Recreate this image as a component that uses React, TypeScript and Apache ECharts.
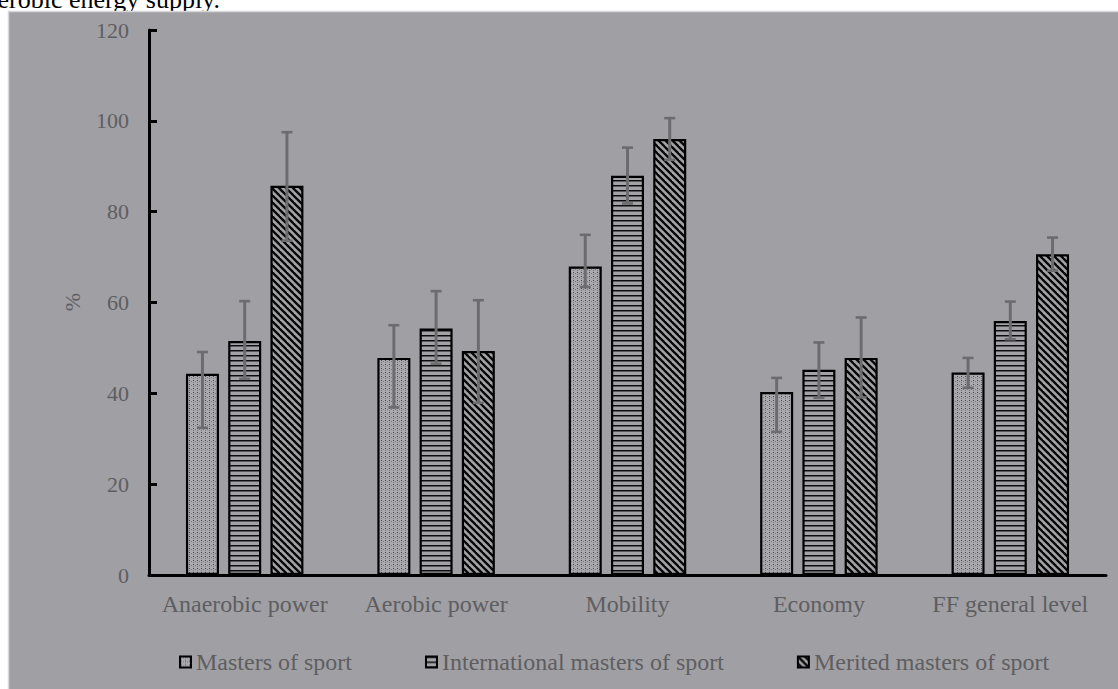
import React, { useEffect, useRef } from "react";
import * as echarts from "echarts";

// Functional fitness indicators by qualification group (% of level), mean with error range
const categories = ["Anaerobic power", "Aerobic power", "Mobility", "Economy", "FF general level"];
const groupNames = ["Masters of sport", "International masters of sport", "Merited masters of sport"];

const mastersMean = [44.3, 47.8, 67.9, 40.3, 44.6];
const mastersUpper = [49.1, 55.0, 74.9, 43.4, 47.8];
const mastersLower = [32.4, 36.9, 63.4, 31.5, 41.2];

const internationalMean = [51.5, 54.3, 87.9, 45.2, 55.9];
const internationalUpper = [60.3, 62.5, 94.1, 51.2, 60.2];
const internationalLower = [43.2, 46.5, 81.8, 39.0, 51.9];

const meritedMean = [85.7, 49.3, 96.0, 47.8, 70.6];
const meritedUpper = [97.5, 60.5, 100.6, 56.7, 74.3];
const meritedLower = [73.6, 37.9, 91.4, 39.1, 67.0];

const yTickLabels = [0, 20, 40, 60, 80, 100, 120];

const FONT = "Liberation Serif";
const PANEL = "#a09fa4";
const TEXT_GREY = "#5e5e60";
const ERR_GREY = "#6c6c6e";
const BAR_WIDTH = 33;
const BAR_GAP = 0.28;

type Tile = { image: string; repeat: string; imageWidth: number; imageHeight: number };

function makeTile(w: number, h: number, draw: (ctx: CanvasRenderingContext2D) => void): Tile {
  const c = document.createElement("canvas");
  c.width = w;
  c.height = h;
  const ctx = c.getContext("2d") as CanvasRenderingContext2D;
  draw(ctx);
  return { image: c.toDataURL(), repeat: "repeat", imageWidth: w, imageHeight: h };
}

function dottedFill(): Tile {
  return makeTile(4, 4, (ctx) => {
    ctx.fillStyle = "#aaa9ad";
    ctx.fillRect(0, 0, 4, 4);
    ctx.fillStyle = "#4a4a4c";
    ctx.fillRect(1, 0, 1, 1);
    ctx.fillStyle = "#7a797d";
    ctx.fillRect(1, 2, 1, 1);
    ctx.fillRect(3, 1, 1, 1);
  });
}

function stripedFill(): Tile {
  return makeTile(4, 5, (ctx) => {
    ctx.fillStyle = "#a3a2a6";
    ctx.fillRect(0, 0, 4, 5);
    ctx.fillStyle = "#0c0c0c";
    ctx.fillRect(0, 0, 4, 1);
    ctx.fillStyle = "#5a5a5c";
    ctx.fillRect(0, 1, 4, 1);
  });
}

function hatchedFill(): Tile {
  return makeTile(7, 7, (ctx) => {
    ctx.fillStyle = "#a3a2a6";
    ctx.fillRect(0, 0, 7, 7);
    ctx.strokeStyle = "#080808";
    ctx.lineWidth = 2.3;
    for (const off of [-7, 0, 7]) {
      ctx.beginPath();
      ctx.moveTo(off - 1, -1);
      ctx.lineTo(off + 8, 8);
      ctx.stroke();
    }
  });
}

export default function App() {
  const ref = useRef<HTMLDivElement>(null);

  useEffect(() => {
    if (!ref.current) return;
    const chart = echarts.init(ref.current, undefined, { renderer: "svg" });

    const fills = [dottedFill(), stripedFill(), hatchedFill()];
    const means = [mastersMean, internationalMean, meritedMean];
    const uppers = [mastersUpper, internationalUpper, meritedUpper];
    const lowers = [mastersLower, internationalLower, meritedLower];
    const step = BAR_WIDTH * (1 + BAR_GAP);

    const barSeries = groupNames.map((name, i) => ({
      type: "bar",
      name,
      data: means[i],
      barWidth: BAR_WIDTH,
      barGap: `${BAR_GAP * 100}%`,
      itemStyle: { color: fills[i], borderColor: "#000", borderWidth: 2.2 },
      z: 2,
    }));

    const errorSeries = groupNames.map((name, i) => ({
      type: "custom",
      name: `${name} range`,
      data: categories.map((_, c) => [c, uppers[i][c], lowers[i][c]]),
      encode: { x: 0, y: [1, 2] },
      z: 5,
      silent: true,
      renderItem: (_params: any, api: any) => {
        const cat = api.value(0);
        const top = api.coord([cat, api.value(1)]);
        const bottom = api.coord([cat, api.value(2)]);
        const x = top[0] + (i - 1) * step;
        const half = 5.5;
        const stem = { stroke: ERR_GREY, lineWidth: 3 };
        const cap = { stroke: ERR_GREY, lineWidth: 2.6 };
        return {
          type: "group",
          children: [
            { type: "line", shape: { x1: x, y1: top[1], x2: x, y2: bottom[1] }, style: stem },
            { type: "line", shape: { x1: x - half, y1: top[1], x2: x + half, y2: top[1] }, style: cap },
            { type: "line", shape: { x1: x - half, y1: bottom[1], x2: x + half, y2: bottom[1] }, style: cap },
          ],
        };
      },
    }));

    chart.setOption({
      animation: false,
      backgroundColor: "#ffffff",
      graphic: [
        {
          // closing words of the preceding paragraph, cut by the figure panel
          type: "text",
          z: -20,
          x: -14,
          y: 12,
          style: {
            text: "aerobic energy supply.",
            font: `26px "${FONT}"`,
            fill: "#000",
            verticalAlign: "bottom",
          },
        },
        {
          type: "rect",
          z: -10,
          shape: { x: 8.5, y: 11.5, width: 1120, height: 690 },
          style: { fill: PANEL, stroke: "#d6d6d8", lineWidth: 1.5 },
        },
        {
          type: "text",
          x: 72,
          y: 302,
          rotation: Math.PI / 2,
          style: {
            text: "%",
            font: `22px "${FONT}"`,
            fill: TEXT_GREY,
            align: "center",
            verticalAlign: "middle",
          },
        },
      ],
      grid: { left: 149, right: 12, top: 30, bottom: 114, containLabel: false },
      legend: {
        data: groupNames,
        left: 179,
        top: 650,
        padding: 0,
        itemWidth: 11,
        itemHeight: 11,
        itemGap: 73,
        icon: "rect",
        itemStyle: { borderColor: "#000", borderWidth: 2 },
        textStyle: { fontFamily: FONT, fontSize: 24, color: TEXT_GREY },
      },
      xAxis: {
        type: "category",
        data: categories,
        axisLine: { lineStyle: { color: "#000", width: 3 } },
        axisTick: { inside: true, length: 6, lineStyle: { color: "#000", width: 3 } },
        axisLabel: { interval: 0, fontFamily: FONT, fontSize: 24, color: TEXT_GREY, margin: 17 },
        splitLine: { show: false },
      },
      yAxis: {
        type: "value",
        min: yTickLabels[0],
        max: yTickLabels[yTickLabels.length - 1],
        interval: yTickLabels[1] - yTickLabels[0],
        axisLine: { show: true, lineStyle: { color: "#000", width: 3 } },
        axisTick: { show: true, inside: true, length: 8, lineStyle: { color: "#000", width: 3 } },
        axisLabel: { fontFamily: FONT, fontSize: 22, color: TEXT_GREY, margin: 20 },
        splitLine: { show: false },
      },
      series: [...barSeries, ...errorSeries],
    });

    return () => chart.dispose();
  }, []);

  return (
    <div
      ref={ref}
      style={{ position: "fixed", left: 0, top: 0, width: 1118, height: 689 }}
    />
  );
}
